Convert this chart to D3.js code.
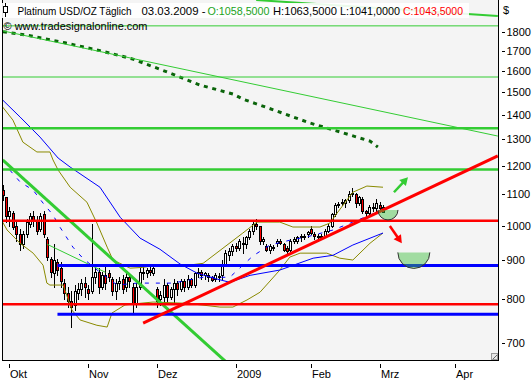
<!DOCTYPE html>
<html>
<head>
<meta charset="utf-8">
<script src="https://cdn.jsdelivr.net/npm/d3@7/dist/d3.min.js"></script>
<style>
  body { margin: 0; background: #fff; }
  svg text { font-family: "Liberation Sans", Arial, sans-serif; font-size: 11px; fill: #000; }
</style>
</head>
<body>
<svg id="chart" width="532" height="380"></svg>
<script>
// daily candles, index 0 = Mo 29.09.2008, one entry per weekday up to 03.03.2009
const opens = [1114,1090,1030,1040,1000,975,945,975,1005,1030,1015,990,1035,960,905,865,895,880,840,815,
  795,785,815,825,840,825,820,855,870,830,860,865,850,820,840,850,830,855,830,790,
  830,870,865,875,865,825,800,805,835,805,825,840,825,845,830,850,835,865,870,860,
  860,855,850,855,860,890,915,925,940,935,950,945,965,985,1005,1000,955,940,930,935,
  950,955,945,935,930,955,955,965,965,975,990,975,965,968,970,985,1000,1035,1065,1075,
  1070,1080,1100,1100,1070,1085,1045,1040,1060,1055,1065,1058.5];
const highs = [1130,1090,1060,1045,1010,990,985,1020,1040,1045,1030,1040,1045,965,910,945,905,895,850,830,
  820,835,840,850,855,835,1005,880,880,870,885,875,855,850,855,860,870,865,840,840,
  880,885,880,885,890,830,820,850,840,830,850,845,850,850,860,852,870,880,875,870,
  865,858,865,865,900,930,935,945,950,960,965,970,990,1010,1020,1000,965,945,945,942,
  960,960,950,940,960,965,970,975,975,985,1000,980,975,975,990,1005,1040,1070,1075,1085,
  1085,1110,1120,1105,1095,1090,1050,1065,1070,1085,1075,1063.5];
const lows = [1080,1010,1000,990,955,930,935,965,995,1000,975,985,965,900,855,830,860,830,800,780,
  735,775,800,810,805,800,815,840,815,825,825,845,810,800,825,815,820,830,770,780,
  825,850,855,860,860,780,785,790,790,800,790,810,820,820,825,830,830,855,850,850,
  845,845,845,845,850,885,900,915,925,930,920,935,960,975,990,945,945,925,920,930,
  940,945,925,920,925,950,950,955,960,965,975,960,955,960,965,980,995,1030,1060,1065,
  1060,1075,1095,1060,1065,1040,1025,1030,1045,1045,1045,1041];
const closes = [1097,1030,1045,995,975,945,975,1010,1030,1015,985,1030,975,910,870,900,875,845,815,795,
  780,820,825,840,830,815,855,870,830,860,840,855,820,840,845,825,855,845,790,830,
  870,865,875,870,880,795,810,835,805,825,840,825,845,830,850,835,865,870,860,865,
  855,848,860,858,890,920,925,940,935,955,945,965,985,1005,1000,955,960,930,940,938,
  955,950,930,925,955,960,965,970,968,982,978,970,968,970,985,1000,1035,1065,1068,1070,
  1080,1100,1105,1070,1090,1045,1040,1060,1055,1070,1055,1043.5];

// indicators as [day index, price]
const ma200 = [[0.1,1803],[8,1781],[18.2,1743],[28.4,1702],[38,1659],[48,1595],[57.6,1533],
  [67.2,1492],[70.1,1469],[80.1,1416],[89.7,1366],[97.6,1333],[107.2,1293],[109.5,1270]];
const maSlow = [[0,1465],[5.1,1391],[10.9,1309],[16.2,1228],[19.7,1195],[28.4,1124],[34.3,1026],
  [40.1,963],[45.9,931],[51.8,890],[56.7,866],[61.4,853],[66.3,842],[72.2,860],[80.9,874],
  [90.6,906],[96.4,914],[102.2,943],[111,978]];
const bbMid = [[2.1,1184],[5.1,1142],[8.9,1114],[11.8,1071],[14.7,1033],[16.7,996],[18.8,963],
  [20.5,937],[23.4,906],[28.4,868],[33.4,835],[39.2,840],[45.9,840],[49.7,840],[58.5,855],
  [66.3,855],[73,912],[78,943],[83.9,957],[89.7,969],[96.4,987],[102.2,1011],[107.2,1033],[111,1049]];
const bbUpper = [[0,1434],[3,1378],[5.9,1289],[10,1251],[13.8,1251],[14.7,1221],[16.2,1184],
  [19.7,1124],[24.6,1074],[27.5,1008],[30.5,937],[32.2,901],[37.2,879],[40.9,881],[45,887],
  [51.7,884],[58.5,892],[64.3,934],[70.1,978],[74.2,1011],[80.9,1011],[84.7,996],[92.6,996],
  [95.5,1008],[97.6,1039],[102.2,1107],[106.3,1128],[111,1124]];
const bbLower = [[0,1011],[1.3,987],[5.1,948],[8.9,920],[11.8,887],[12.9,840],[13.8,835],
  [17.6,835],[18.2,822],[20.2,774],[22.6,751],[27.5,739],[30.5,735],[31.9,767],[35.7,786],
  [40.1,790],[43.9,793],[53.8,790],[63.4,781],[67.2,781],[71.3,798],[75.1,817],[80.9,874],
  [83.8,909],[86.8,920],[94.6,920],[98.4,906],[102.2,901],[107.2,948],[111,978]];

// drawing tools
const greenThinLevels = [1835, 1571];
const greenThickLevels = [1344, 1186];
const redLevels = [1015, 788];
const blueLevels = [886, 764];
const blueLevelStart = 16;
const greenFan = [[0.1,1807],[144.5,1313]];
const greenTop = [[74,1985],[144.5,1891]];
const greenDown = [[0,1221],[70,632]];
const greenShort = [[13,945],[30,868]];
const redTrend = [[41,744],[144.5,1236]];
const bowls = [[112.45,1049],[120,922]];
const arrowUp = [[114.2,1107],[118.3,1159]];
const arrowDown = [[113,999],[116.5,948]];

const yTicks = [700,800,900,1000,1100,1200,1300,1400,1500,1600,1700,1800];
const xTickLabels = ["Okt","Nov","Dez","2009","Feb","Mrz","Apr"];
const xTickMonths = [[2008,9],[2008,10],[2008,11],[2009,0],[2009,1],[2009,2],[2009,3]];

/* ===================================
 *  SCALES
 * =================================== */
const svg = d3.select("#chart");
const L = 2, R = 498, T = 0, B = 360;
const x = d3.scaleLinear().domain([0, 144.56]).range([2.646, 498]);
const y = d3.scaleLog().domain([665, 1985]).range([360, 0]);

// weekday calendar for the time axis
const days = [];
for (let d = new Date(2008, 8, 29); days.length < 150; d.setDate(d.getDate() + 1)) {
  if (d.getDay() !== 0 && d.getDay() !== 6) days.push(new Date(d));
}

svg.append("rect").attr("x", L).attr("y", T).attr("width", R - L).attr("height", B - T).attr("fill", "#f4f4f4");
svg.append("defs").append("clipPath").attr("id", "plotClip")
  .append("rect").attr("x", L + 1).attr("y", T).attr("width", R - L - 1).attr("height", B - T);

const g = svg.append("g").attr("clip-path", "url(#plotClip)");
const line = d3.line().x(d => x(d[0])).y(d => y(d[1]));

/* ===================================
 *  CANDLES
 * =================================== */
const candles = g.append("g").attr("shape-rendering", "crispEdges");
closes.forEach((c, i) => {
  const cx = Math.round(x(i));
  const o = opens[i];
  candles.append("line")
    .attr("x1", cx + 0.5).attr("x2", cx + 0.5)
    .attr("y1", Math.round(y(highs[i]))).attr("y2", Math.round(y(lows[i])) + 1)
    .attr("stroke", "#000");
  const top = Math.round(y(Math.max(o, c)));
  const bot = Math.round(y(Math.min(o, c)));
  candles.append("rect")
    .attr("x", cx - 0.5).attr("y", top + 0.5)
    .attr("width", 2).attr("height", Math.max(1, bot - top))
    .attr("fill", c < o ? "#ff0000" : "#fff")
    .attr("stroke", "#000");
});

/* ===================================
 *  INDICATORS
 * =================================== */
g.append("path").attr("d", line(bbUpper)).attr("fill", "none").attr("stroke", "#8a8a00");
g.append("path").attr("d", line(bbLower)).attr("fill", "none").attr("stroke", "#8a8a00");
g.append("path").attr("d", line(bbMid)).attr("fill", "none").attr("stroke", "#0000ff")
  .attr("stroke-dasharray", "4,7");
g.append("path").attr("d", line(maSlow)).attr("fill", "none").attr("stroke", "#0000ff");
g.append("path").attr("d", line(ma200)).attr("fill", "none").attr("stroke", "#0a640a")
  .attr("stroke-width", 3).attr("stroke-dasharray", "4,4.7");

/* ===================================
 *  DRAWING TOOLS
 * =================================== */
const hline = (p, x0, color, w) => g.append("line")
  .attr("x1", x0).attr("x2", R).attr("y1", y(p)).attr("y2", y(p))
  .attr("stroke", color).attr("stroke-width", w);

greenThinLevels.forEach(p => hline(p, L, "#33cc33", 1));
greenThickLevels.forEach(p => hline(p, L, "#33cc33", 2.5));
g.append("path").attr("d", line(greenFan)).attr("fill", "none").attr("stroke", "#33cc33");
g.append("path").attr("d", line(greenTop)).attr("fill", "none").attr("stroke", "#33cc33").attr("stroke-width", 2);
g.append("path").attr("d", line(greenShort)).attr("fill", "none").attr("stroke", "#33cc33");
g.append("path").attr("d", line(greenDown)).attr("fill", "none").attr("stroke", "#33cc33").attr("stroke-width", 3);
blueLevels.forEach(p => hline(p, x(blueLevelStart), "#0000ff", 3));
redLevels.forEach(p => hline(p, L, "#ff0000", 2.5));
g.append("path").attr("d", line(redTrend)).attr("fill", "none").attr("stroke", "#ff0000").attr("stroke-width", 3);

bowls.forEach((b, k) => {
  const r = k === 0 ? 10 : 16;
  const cx = x(b[0]), cy = y(b[1]);
  g.append("path")
    .attr("d", `M${cx - r},${cy} A${r},${r} 0 0 0 ${cx + r},${cy} Z`)
    .attr("fill", "rgba(60,190,60,0.45)").attr("stroke", "none");
  g.append("path")
    .attr("d", `M${cx - r},${cy} A${r},${r} 0 0 0 ${cx + r},${cy}`)
    .attr("fill", "none").attr("stroke", "#333").attr("stroke-width", 1);
});

function arrow(pts, color) {
  const x0 = x(pts[0][0]), y0 = y(pts[0][1]);
  const x1 = x(pts[1][0]), y1 = y(pts[1][1]);
  const len = Math.hypot(x1 - x0, y1 - y0);
  const ux = (x1 - x0) / len, uy = (y1 - y0) / len;
  g.append("line").attr("x1", x0).attr("y1", y0)
    .attr("x2", x1 - ux * 5).attr("y2", y1 - uy * 5)
    .attr("stroke", color).attr("stroke-width", 2.5);
  g.append("path")
    .attr("d", `M${x1},${y1} L${x1 - ux * 8 - uy * 4.5},${y1 - uy * 8 + ux * 4.5} L${x1 - ux * 8 + uy * 4.5},${y1 - uy * 8 - ux * 4.5} Z`)
    .attr("fill", color);
}
arrow(arrowUp, "#33cc33");
arrow(arrowDown, "#ff0000");

/* ===================================
 *  FRAME + AXES
 * =================================== */
const frame = svg.append("g").attr("shape-rendering", "crispEdges");
frame.append("line").attr("x1", L + 0.5).attr("x2", L + 0.5).attr("y1", T).attr("y2", B + 1).attr("stroke", "#000");
frame.append("line").attr("x1", R + 0.5).attr("x2", R + 0.5).attr("y1", T).attr("y2", B + 1).attr("stroke", "#000");
frame.append("line").attr("x1", L).attr("x2", R + 1).attr("y1", B + 0.5).attr("y2", B + 0.5).attr("stroke", "#000");

// little resize grip in the corner
frame.append("rect").attr("x", R - 6.5).attr("y", B - 6.5).attr("width", 6).attr("height", 6)
  .attr("fill", "#e6e6e6").attr("stroke", "#999");
frame.append("line").attr("x1", R - 5).attr("y1", B - 1).attr("x2", R - 1).attr("y2", B - 5).attr("stroke", "#666");

const yAxis = svg.append("g");
yTicks.forEach(t => {
  const ty = Math.round(y(t)) + 0.5;
  yAxis.append("line").attr("x1", 502).attr("x2", 505).attr("y1", ty).attr("y2", ty).attr("stroke", "#000");
  yAxis.append("text").attr("x", 506.5).attr("y", ty).attr("dy", "0.36em").text(t);
});
svg.append("text").attr("x", 503).attr("y", 13.5).text("$");

const xAxis = svg.append("g");
xTickMonths.forEach((m, k) => {
  const idx = days.findIndex(d => d.getFullYear() === m[0] && d.getMonth() === m[1]);
  const tx = Math.round(x(idx)) + 0.5;
  xAxis.append("line").attr("x1", tx).attr("x2", tx).attr("y1", 364).attr("y2", 368).attr("stroke", "#000");
  xAxis.append("text").attr("x", tx + 0.5).attr("y", 378).text(xTickLabels[k]);
});

/* ===================================
 *  TITLE
 * =================================== */
svg.append("rect").attr("x", 0).attr("y", 3).attr("width", 469).attr("height", 15)
  .attr("fill", "#fff").attr("opacity", 0.9);
svg.append("line").attr("x1", 5.5).attr("x2", 5.5).attr("y1", 3).attr("y2", 17).attr("stroke", "#000");
svg.append("rect").attr("x", 3.5).attr("y", 6.5).attr("width", 4).attr("height", 6)
  .attr("fill", "#fff").attr("stroke", "#000");

const titleParts = [
  ["Platinum USD/OZ Täglich", 17.5, 114, "#000"],
  ["03.03.2009 -", 141.5, 64, "#000"],
  ["O:1058,5000", 207.5, 62, "#1aa31a"],
  ["H:1063,5000", 273, 64, "#000"],
  ["L:1041,0000", 340, 60, "#000"],
  ["C:1043,5000", 403, 60, "#ff0000"]
];
titleParts.forEach(p => {
  svg.append("text").attr("x", p[1]).attr("y", 14.5)
    .attr("textLength", p[2]).attr("lengthAdjust", "spacingAndGlyphs")
    .style("fill", p[3]).text(p[0]);
});
svg.append("text").attr("x", 3.5).attr("y", 29.5)
  .attr("textLength", 144).attr("lengthAdjust", "spacingAndGlyphs")
  .text("© www.tradesignalonline.com");
</script>
</body>
</html>
